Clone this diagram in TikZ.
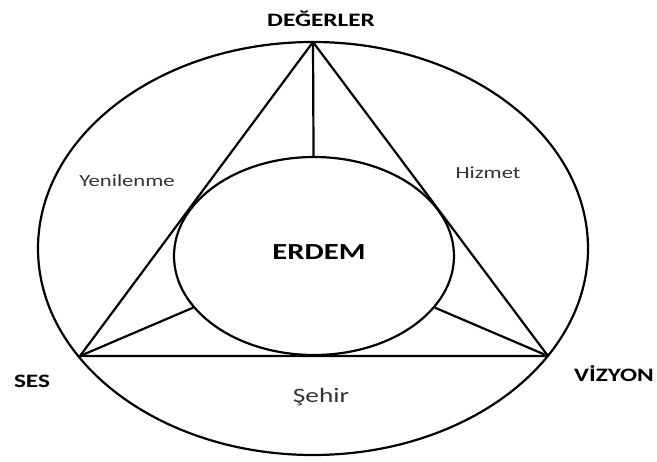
\documentclass[tikz,border=0pt]{standalone}
\usepackage{fontspec}
\setmainfont{Carlito}
\newfontfamily\widefont[FakeStretch=1.33]{Carlito}
\usetikzlibrary{shapes.geometric}
\tikzset{
  ringline/.style  = {line width=2.2pt,black},
  cornerlbl/.style = {anchor=base,font=\widefont\bfseries\fontsize{19}{19}\selectfont},
  sidelbl/.style   = {anchor=base,font=\widefont\fontsize{17}{17}\selectfont,black!80}
}

\begin{document}
\begin{tikzpicture}[x=1pt,y=-1pt]
  \useasboundingbox (0,0) rectangle (657,462);
  \coordinate (deg) at (313,42);
  \coordinate (ses) at (80,356);
  \coordinate (viz) at (548,356);
  \draw[ringline] (313,248.5) ellipse [x radius=275pt, y radius=206.5pt];
  \node[ringline,draw,ellipse,inner sep=0pt,minimum width=280pt,minimum height=198pt]
        (erdem) at (314,256) {};
  \draw[ringline,line join=round] (deg) -- (ses) -- (viz) -- cycle;
  % spokes stop on the inner ring
  \draw[ringline] (deg) -- (erdem);
  \draw[ringline] (ses) -- (erdem);
  \draw[ringline] (viz) -- (erdem);
  \node[cornerlbl] (degl) at (321,26.7) {DEĞERLER};
  \node[cornerlbl] (sesl) at (32,388)   {SES};
  \node[cornerlbl] (vizl) at (614,381.7) {VİZYON};
  \node[cornerlbl,font=\widefont\bfseries\fontsize{23}{23}\selectfont] (erdl) at (319,260) {ERDEM};
  \node[sidelbl] (yen) at (127,186.7) {Yenilenme};
  \node[sidelbl] (hiz) at (488,179)   {Hizmet};
  \node[sidelbl,font=\widefont\fontsize{20.5}{20.5}\selectfont] (seh) at (321,403) {Şehir};
\end{tikzpicture}
\end{document}
